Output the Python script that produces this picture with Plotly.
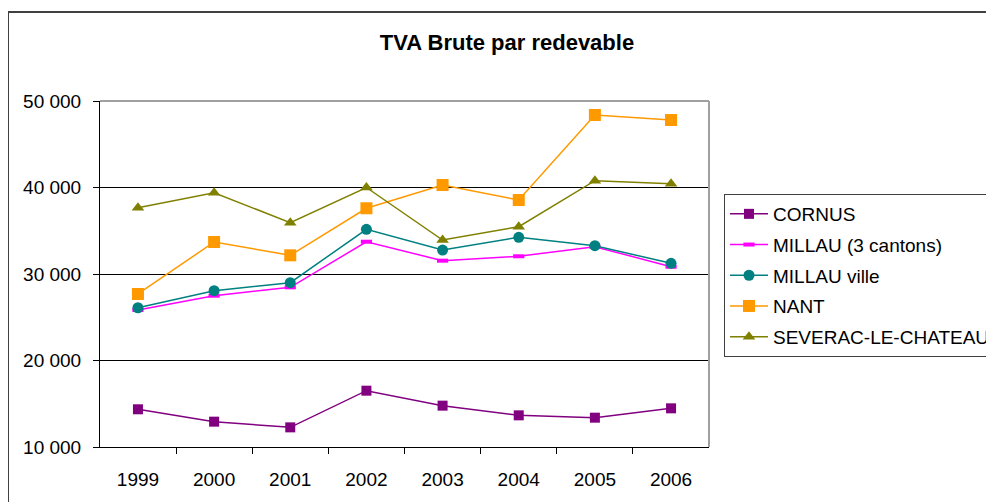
import plotly.graph_objects as go

years = ["1999", "2000", "2001", "2002", "2003", "2004", "2005", "2006"]
cornus = [14360, 12930, 12270, 16510, 14780, 13660, 13390, 14470]
millau_3c = [25840, 27490, 28460, 33730, 31540, 32050, 33160, 30840]
millau_ville = [26100, 28070, 29000, 35170, 32770, 34240, 33270, 31240]
nant = [27690, 33700, 32160, 37600, 40290, 38550, 48380, 47800]
severac = [37660, 39400, 35930, 40000, 33930, 35470, 40790, 40440]

names = ["CORNUS", "MILLAU (3 cantons)", "MILLAU ville", "NANT", "SEVERAC-LE-CHATEAU"]
series = [cornus, millau_3c, millau_ville, nant, severac]
colors = ["#800080", "#FF00FF", "#008080", "#FF9900", "#808000"]
symbols = ["square", "line-ew", "circle", "square", "triangle-up"]
sizes = [10, 8, 11, 12, 11]

W, H = 1030, 502
OFF = 8  # page body margin
L, R, T, B = 100 - OFF, 709 - OFF, 101 - OFF, 447 - OFF

fig = go.Figure()
for n, s, c, sym, sz in zip(names, series, colors, symbols, sizes):
    if sym == "line-ew":
        marker = dict(symbol=sym, size=sz, line=dict(color=c, width=4), color=c)
    else:
        marker = dict(symbol=sym, size=sz, color=c, line=dict(width=0))
    fig.add_trace(go.Scatter(x=years, y=s, name=n, mode="lines+markers",
                             line=dict(color=c, width=1.5), marker=marker,
                             legendgroup=n))

def px(x):
    return (x - OFF - L) / (R - L)

def py(y):
    return (B - (y - OFF)) / (B - T)

FONT = "Arial, Liberation Sans, sans-serif"
fig.update_layout(
    width=W, height=H,
    margin=dict(l=L, r=W - R, t=T, b=H - B, pad=0),
    paper_bgcolor="white", plot_bgcolor="white",
    separators=", ",
    font=dict(family=FONT, size=19, color="black"),
    title=dict(text="<b>TVA Brute par redevable</b>", x=(507 - OFF) / W, xanchor="center",
               y=1 - (42 - OFF) / H, yanchor="middle",
               font=dict(size=22, family=FONT)),
    xaxis=dict(type="category", tickson="boundaries", ticks="outside", ticklen=6,
               tickcolor="black", showline=True, linecolor="black", linewidth=1,
               showgrid=False, ticklabelstandoff=15),
    yaxis=dict(range=[10000, 50000], dtick=10000, tickformat=",d", ticks="outside",
               ticklen=6, tickcolor="black", showline=True, linecolor="black",
               linewidth=1, showgrid=True, gridcolor="black", gridwidth=1,
               zeroline=False, ticklabelstandoff=8),
    legend=dict(x=px(724), y=py(194), xanchor="left", yanchor="top",
                bordercolor="#404040", borderwidth=1, bgcolor="white",
                traceorder="grouped", tracegroupgap=3, itemwidth=38,
                font=dict(size=19, family=FONT)),
    showlegend=True,
    shapes=[
        dict(type="line", xref="paper", yref="paper", x0=0, x1=1, y0=1, y1=1,
             line=dict(color="#A0A0A0", width=2)),
        dict(type="line", xref="paper", yref="paper", x0=1, x1=1, y0=0, y1=1,
             line=dict(color="#A0A0A0", width=2)),
        dict(type="rect", xref="paper", yref="paper", x0=px(8), x1=px(995),
             y0=py(530), y1=py(12), line=dict(color="#404040", width=2),
             fillcolor="rgba(0,0,0,0)", layer="below"),
    ],
)

fig.write_html("out.html")
